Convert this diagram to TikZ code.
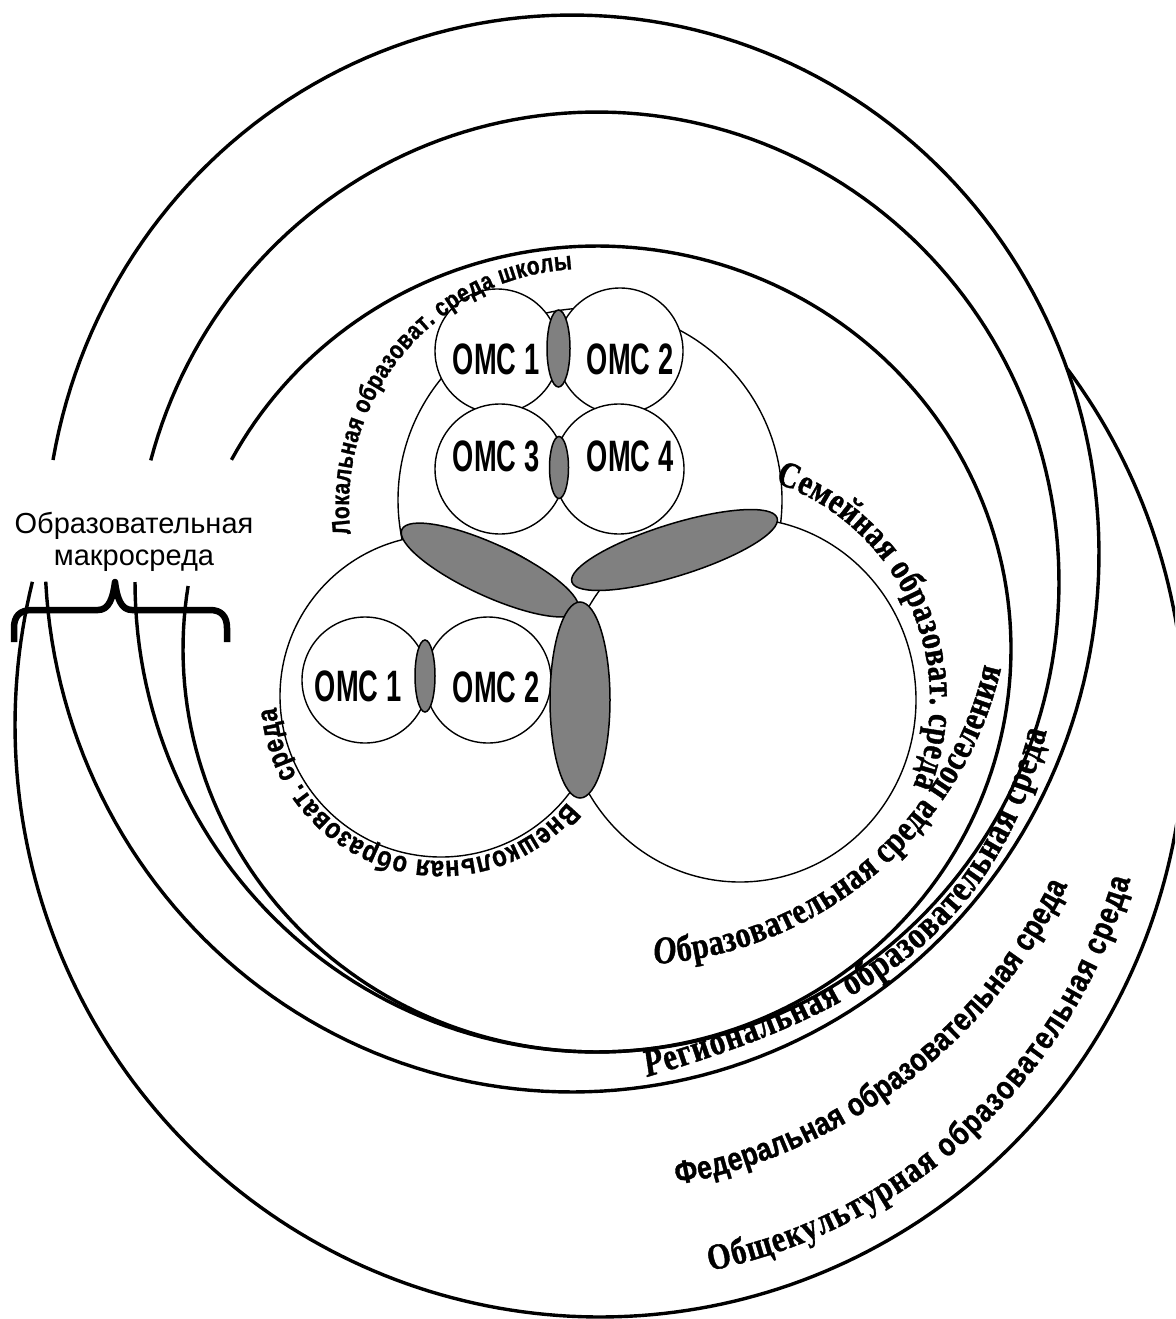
\documentclass[tikz,border=0pt]{standalone}
\usepackage{fontspec}
\setmainfont{Liberation Serif}
\newfontfamily\fArial{Liberation Sans}
\newfontfamily\fSansN[FakeStretch=0.82, FakeBold=1]{Liberation Sans}
\newfontfamily\fSerifN[FakeStretch=0.82, FakeBold=1]{Liberation Serif}
\newfontfamily\fOMCf[FakeStretch=0.62]{Liberation Sans}
\usetikzlibrary{decorations.text}
\definecolor{lensgrey}{RGB}{128,128,128}
\newcommand\fmtLoc{\fSansN\bfseries\fontsize{25.5}{25.5}\selectfont}
\newcommand\fmtVne{\fSansN\bfseries\fontsize{29}{29}\selectfont}
\newcommand\fmtSem{\fSerifN\bfseries\fontsize{36.5}{36.5}\selectfont}
\newcommand\fmtSer{\fSerifN\bfseries\fontsize{37}{37}\selectfont}
\newcommand\fmtSerI{\fSerifN\bfseries\itshape\fontsize{39}{39}\selectfont}
\newcommand\fmtReg{\fSerifN\bfseries\fontsize{38}{38}\selectfont}
\newcommand\fmtFed{\fSansN\bfseries\fontsize{32.5}{32.5}\selectfont}
\newcommand\fmtObsS{\fSerifN\bfseries\fontsize{37}{37}\selectfont}
\newcommand\fmtObs{\fSansN\bfseries\fontsize{32.5}{32.5}\selectfont}
\begin{document}
\begin{tikzpicture}[x=1pt,y=-1pt,
  ring/.style={line width=3.4pt},
  circ/.style={line width=1.4pt, draw=black, fill=white},
  lensfill/.style={line width=1.5pt, draw=black, fill=lensgrey},
  omc/.style={font=\fOMCf\bfseries\fontsize{44}{44}\selectfont, inner sep=0pt},
  macro/.style={font=\fArial\fontsize{29}{29}\selectfont, inner sep=0pt, anchor=base},
  curved/.style={decorate, decoration={text along path, text align={fit to path}, text={#1}}}]
\useasboundingbox (0,0) rectangle (1175,1319);
\clip (0,0) rectangle (1175,1319);

% environment rings
\draw[ring] plot[domain=-37:194, samples=200] ({600+585*cos(\x)}, {725+592*sin(\x)});
\draw[ring] plot[domain=190:537, samples=220] ({572+527*cos(\x)}, {553.5+538.5*sin(\x)});
\draw[ring] plot[domain=195:540, samples=220] ({597+462*cos(\x)}, {582+470*sin(\x)});
\draw[ring] plot[domain=208:549, samples=220] ({597+414*cos(\x)}, {649+403*sin(\x)});

% brace and its label
\draw[line width=6.5pt, line join=round] (14,642) -- (14,628) .. controls (14,616) and (20,610) .. (32,610) -- (98,610)
  .. controls (109,610) and (113,598) .. (115,582) .. controls (117,598) and (121,610) .. (132,610) -- (210,610)
  .. controls (221,610) and (227,616) .. (227,628) -- (227,642);
\node[macro] (macro1) at (134,533) {Образовательная};
\node[macro] (macro2) at (134,565) {макросреда};

% school environment
\draw[circ] (590,500) circle[radius=192pt];
\draw[circ] (497,351) circle[radius=62pt];
\draw[circ] (620,351) circle[radius=63pt];
\draw[circ] (500,469) circle[radius=65pt];
\draw[circ] (619,469) circle[radius=65pt];
\draw[lensfill] (558.5,348.5) ellipse[x radius=11.5pt, y radius=38.5pt];
\draw[lensfill] (559,467.5) ellipse[x radius=9.5pt, y radius=31pt];

% out-of-school and family environments
\draw[circ] (441,696) circle[radius=161pt];
\draw[circ] (740,700) ellipse[x radius=176pt, y radius=182pt];
\draw[circ] (365,680) circle[radius=63pt];
\draw[circ] (488,680) circle[radius=63pt];
\draw[lensfill] (425,676) ellipse[x radius=10pt, y radius=36pt];

% intersections
\draw[lensfill, rotate around={-24.7:(490,570)}] (490,570) ellipse[x radius=97pt, y radius=26pt];
\draw[lensfill, rotate around={17.3:(674.5,550)}] (674.5,550) ellipse[x radius=107.5pt, y radius=26pt];
\draw[lensfill] (580,700) ellipse[x radius=30pt, y radius=98pt];

% OMC labels
\node[omc] (u1) at (496,359) {ОМС 1};
\node[omc] (u2) at (630,359) {ОМС 2};
\node[omc] (u3) at (496,456) {ОМС 3};
\node[omc] (u4) at (630,456) {ОМС 4};
\node[omc] (l1) at (358,686) {ОМС 1};
\node[omc] (l2) at (496,687) {ОМС 2};

% curved labels
\path[curved={|\fmtLoc|Локальная образоват. среда школы}]
  plot[domain=0:1, samples=90] ({585+236*cos(173+94*\x)}, {505+236*sin(173+94*\x)});
\path[curved={|\fmtVne|Внешкольная образоват. среда}]
  plot[domain=0:1, samples=90] ({441+165*cos(40+136*\x)}, {696+165*sin(40+136*\x)});
\path[curved={|\fmtSem|Семейная образоват. среда}]
  plot[domain=0:1, samples=90] ({700+230*cos(-71+93*\x)}, {700+230*sin(-71+93*\x)});
\path[curved={|\fmtSerI|О|\fmtSer|бразовательная среда поселения}]
  plot[domain=0:1, samples=90] ({628+383*cos(86-73*\x)}, {582+383*sin(86-73*\x)});
\path[curved={|\fmtSerI|Р|\fmtReg|егиональная образовательная среда}]
  plot[domain=0:1, samples=100] ({(1-\x)^3*647 + 3*(1-\x)^2*\x*858.1 + 3*(1-\x)*\x^2*995.9 + \x^3*1047},
                                 {(1-\x)^3*1077 + 3*(1-\x)^2*\x*1015.1 + 3*(1-\x)*\x^2*938.9 + \x^3*730});
\path[curved={|\fmtFed|Федеральная образовательная среда}]
  plot[domain=0:1, samples=90] ({577+544*cos(79.4-53.8*\x)}, {650+544*sin(79.4-53.8*\x)});
\path[curved={|\fmtObsS|Общекультурная |\fmtObs|образовательная среда}]
  plot[domain=0:1, samples=100] ({600+552*cos(78.5-62.5*\x)}, {725+557*sin(78.5-62.5*\x)});
\end{tikzpicture}
\end{document}
